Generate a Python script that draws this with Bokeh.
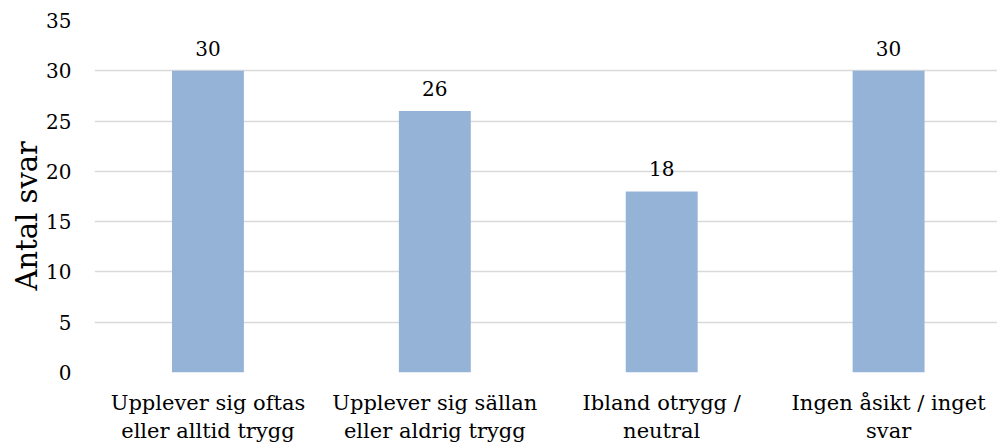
from bokeh.plotting import figure
from bokeh.models import ColumnDataSource, FixedTicker, Range1d, Title
from bokeh.core.properties import value
from bokeh.embed import file_html
from bokeh.resources import INLINE

categories = ["Upplever sig oftas\neller alltid trygg",
              "Upplever sig sällan\neller aldrig trygg",
              "Ibland otrygg /\nneutral",
              "Ingen åsikt / inget\nsvar"]
counts = [30, 26, 18, 30]
y_ticks = [0, 5, 10, 15, 20, 25, 30, 35]
y_title = "Antal svar"

FONT = "DejaVu Serif"
xs = list(range(len(categories)))
src = ColumnDataSource(dict(x=xs, top=counts, lab=[str(c) for c in counts]))

p = figure(width=997, height=446, output_backend="svg", toolbar_location=None,
           x_range=Range1d(-0.5, 3.48), y_range=Range1d(0, 35),
           min_border_left=94, min_border_top=20, min_border_bottom=74, min_border_right=0)
p.outline_line_color = None
p.background_fill_color = "white"
p.border_fill_color = "white"

p.vbar(x="x", top="top", width=0.317, source=src, fill_color="#95B3D7", line_color=None)
p.text(x="x", y="top", text="lab", source=src, text_align="center", text_baseline="bottom",
       y_offset=-15, text_font=value(FONT), text_font_size="20px", text_color="#000000")

p.xgrid.grid_line_color = None
p.ygrid.grid_line_color = "#D9D9D9"
p.ygrid.grid_line_width = 1.5
p.yaxis.ticker = FixedTicker(ticks=y_ticks)
p.xaxis.ticker = FixedTicker(ticks=xs)
p.xaxis.major_label_overrides = {i: c for i, c in enumerate(categories)}

for ax in (p.xaxis, p.yaxis):
    ax.axis_line_color = None
    ax.major_tick_line_color = None
    ax.minor_tick_line_color = None
    ax.major_label_text_font = FONT
    ax.major_label_text_color = "#000000"

p.yaxis.major_label_text_font_size = "20px"
p.xaxis.major_label_text_font_size = "21px"
p.yaxis.major_label_standoff = 17
p.xaxis.major_label_standoff = 12

ytitle = Title(text=y_title, align="left", offset=82, standoff=0,
               text_font=FONT, text_font_size="29px", text_font_style="normal",
               text_color="#000000")
p.add_layout(ytitle, "left")

open("out.html", "w").write(file_html(p, INLINE))
